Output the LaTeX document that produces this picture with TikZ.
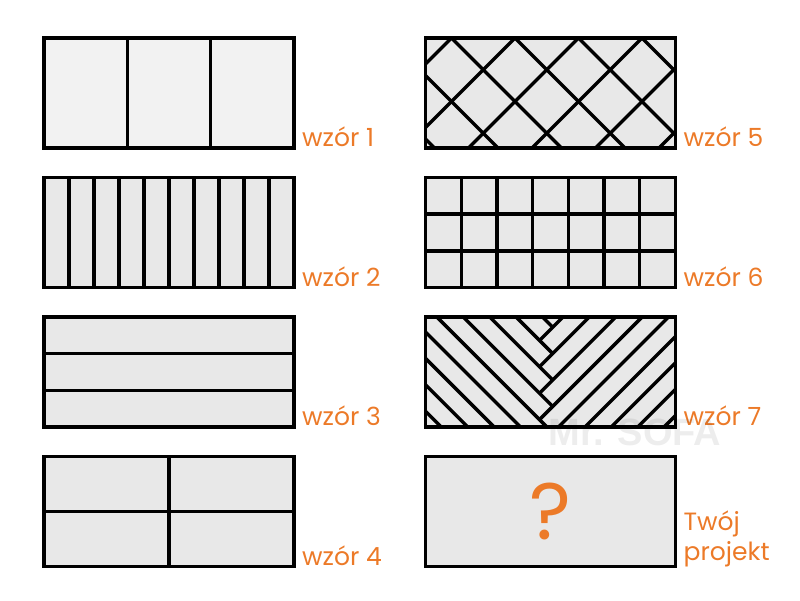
\documentclass[tikz,border=0pt]{standalone}
\usepackage{fontspec}
\setmainfont{Poppins}
\newfontfamily\markfont{Liberation Sans}
\usetikzlibrary{positioning, calc}
\definecolor{labelorange}{RGB}{236,122,40}
\definecolor{tilegray}{RGB}{232,232,232}
\definecolor{tilelight}{RGB}{242,242,242}

\begin{document}
\begin{tikzpicture}[x=1pt, y=-1pt, panel/.style={draw, line width=3.4pt, fill=tilegray, minimum width=250pt, minimum height=110pt, inner sep=0pt, outer sep=0pt}, joint/.style={line width=3.4pt}, patternlabel/.style={text=labelorange, font=\fontsize{25}{30}\selectfont, inner sep=0pt, anchor=base west}, node distance=29.5pt]

	\useasboundingbox (0,0) rectangle (800,600);

	% Left column
	\node[panel, fill=tilelight] (w1) at (169,93) {};
	\node[panel, below=of w1] (w2) {};
	\node[panel, below=of w2] (w3) {};
	\node[panel, below=of w3] (w4) {};

	% Right column
	\node[panel] (w5) at (550.5,93) {};
	\node[panel, below=of w5] (w6) {};
	\node[panel, below=of w6] (w7) {};
	\node[panel, below=of w7, text=labelorange, font=\fontsize{80}{80}\selectfont] (w8) {?};

	% Wzor 1: three boards
	\foreach \i in {1,2}
		\draw[joint] ($(w1.north west)!\i/3!(w1.north east)$) -- ($(w1.south west)!\i/3!(w1.south east)$);

	% Wzor 2: ten boards
	\foreach \i in {1,...,9}
		\draw[joint] ($(w2.north west)!\i/10!(w2.north east)$) -- ($(w2.south west)!\i/10!(w2.south east)$);

	% Wzor 3: three rows
	\foreach \i in {1,2}
		\draw[joint] ($(w3.north west)!\i/3!(w3.south west)$) -- ($(w3.north east)!\i/3!(w3.south east)$);

	% Wzor 4: four panels
	\draw[joint] (w4.north) -- (w4.south);
	\draw[joint] (w4.west) -- (w4.east);

	% Wzor 5: diagonal lattice
	\begin{scope}[shift={(w5.north west)}]
		\clip (0,0) rectangle (250,110);
		\foreach \k in {-2,...,5} {
			\draw[joint] ({26+63.5*\k},0) -- ++(110,110);
			\draw[joint] ({26+63.5*\k},0) -- ++(-110,110);
		}
	\end{scope}

	% Wzor 6: grid
	\foreach \i in {1,...,6}
		\draw[joint] ($(w6.north west)!\i/7!(w6.north east)$) -- ($(w6.south west)!\i/7!(w6.south east)$);
	\foreach \i in {1,2}
		\draw[joint] ($(w6.north west)!\i/3!(w6.south west)$) -- ($(w6.north east)!\i/3!(w6.south east)$);

	% Wzor 7: herringbone
	\begin{scope}[shift={(w7.north west)}]
		\clip (0,0) rectangle (250,110);
		\foreach \k in {0,...,9} {
			\pgfmathsetmacro\seam{-3+26.4*\k}
			\draw[joint] (-36,{\seam-150}) -- (127.2,{\seam+13.2});
			\draw[joint] (114,\seam) -- ++(150,-150);
		}
	\end{scope}

	% Labels
	\node[patternlabel] (l1) at ([xshift=8pt, yshift=1.5pt]w1.south east) {wzór 1};
	\node[patternlabel] (l2) at ([xshift=8pt, yshift=1.5pt]w2.south east) {wzór 2};
	\node[patternlabel] (l3) at ([xshift=8pt, yshift=1.5pt]w3.south east) {wzór 3};
	\node[patternlabel] (l4) at ([xshift=8pt, yshift=1.5pt]w4.south east) {wzór 4};
	\node[patternlabel] (l5) at ([xshift=8pt, yshift=1.5pt]w5.south east) {wzór 5};
	\node[patternlabel] (l6) at ([xshift=8pt, yshift=1.5pt]w6.south east) {wzór 6};
	\node[patternlabel] (l7) at ([xshift=8pt, yshift=1.5pt]w7.south east) {wzór 7};
	\node[patternlabel, align=left, anchor=north west] (l8) at ([xshift=8pt, yshift=-54pt]w8.north east) {Twój\\projekt};

	% Watermark
	\node[text=black, text opacity=0.07, font=\markfont\bfseries\fontsize{38}{38}\selectfont] (mark) at (635,432) {Mr. SOFA};

\end{tikzpicture}
\end{document}
